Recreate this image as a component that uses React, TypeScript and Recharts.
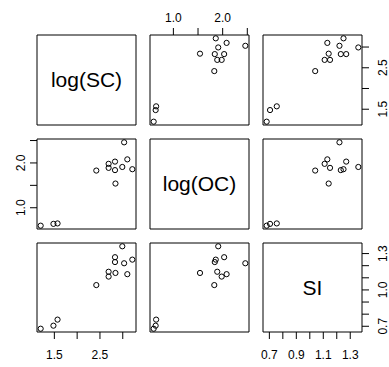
import React from 'react';
import { Label, ReferenceArea, Scatter, ScatterChart, XAxis, YAxis } from 'recharts';

const varNames = ['log(SC)', 'log(OC)', 'SI'];
const logSC = [1.57, 1.48, 1.2, 2.84, 3.21, 2.99, 3.1, 3.03, 2.83, 2.83, 2.69, 2.69, 2.42];
const logOC = [0.65, 0.64, 0.6, 1.54, 1.86, 1.91, 2.08, 2.46, 1.84, 2.03, 1.89, 1.98, 1.83];
const SI = [0.755, 0.705, 0.68, 1.14, 1.25, 1.36, 1.13, 1.22, 1.23, 1.27, 1.15, 1.11, 1.04];
const columns = [logSC, logOC, SI];

// tick marks per variable, and the ones that get a label on each side
const tickMarks = [
  [1.5, 2.0, 2.5, 3.0],
  [1.0, 1.5, 2.0, 2.5],
  [0.7, 0.8, 0.9, 1.0, 1.1, 1.2, 1.3],
];
const xTickLabels = [[1.5, 2.5], [1.0, 2.0], [0.7, 0.9, 1.1, 1.3]];
const yTickLabels = [[1.5, 2.5], [1.0, 2.0], [0.7, 1.0, 1.3]];

const W = 389;
const H = 367;
const COLS = [
  { l: 37, r: 136 },
  { l: 150, r: 249 },
  { l: 263, r: 362 },
];
const ROWS = [
  { t: 35, b: 125 },
  { t: 139, b: 229 },
  { t: 243, b: 332 },
];
const AX = 20;
const FONT = '"Liberation Sans", Arial, Helvetica, sans-serif';

// R style range: data range padded by 4% each side
const rangeOf = (v: number[]): [number, number] => {
  const lo = Math.min(...v);
  const hi = Math.max(...v);
  const pad = (hi - lo) * 0.04;
  return [lo - pad, hi + pad];
};

const has = (list: number[], v: number) => list.some((t) => Math.abs(t - v) < 1e-6);

function Panel({ row, col }: { row: number; col: number }) {
  const n = columns.length;
  const showTop = row === 0 && col % 2 === 1;
  const showBottom = row === n - 1 && col % 2 === 0;
  const showLeft = col === 0 && row % 2 === 1;
  const showRight = col === n - 1 && row % 2 === 0;

  const xDom = rangeOf(columns[col]);
  const yDom = rangeOf(columns[row]);
  const diag = row === col;

  const margin = {
    top: ROWS[row].t - (showTop ? AX : 0),
    bottom: H - ROWS[row].b - (showBottom ? AX : 0),
    left: COLS[col].l - (showLeft ? AX : 0),
    right: W - COLS[col].r - (showRight ? AX : 0),
  };

  const data = columns[col].map((v, k) => ({ x: v, y: columns[row][k] }));

  const xTick = (props: any) => {
    const { x, payload } = props;
    if (!has(xTickLabels[col], payload.value)) return <g />;
    const y = showTop ? ROWS[row].t - 13 : ROWS[row].b + 27;
    return (
      <text x={x} y={y} textAnchor="middle" fontSize={12} fill="#000" fontFamily={FONT}>
        {payload.value.toFixed(1)}
      </text>
    );
  };

  const yTick = (props: any) => {
    const { y, payload } = props;
    if (!has(yTickLabels[row], payload.value)) return <g />;
    const bx = showLeft ? COLS[col].l - 12 : COLS[col].r + 25;
    return (
      <text
        x={bx}
        y={y}
        transform={`rotate(-90 ${bx} ${y})`}
        textAnchor="middle"
        fontSize={12}
        fill="#000"
        fontFamily={FONT}
      >
        {payload.value.toFixed(1)}
      </text>
    );
  };

  return (
    <div style={{ position: 'absolute', left: 0, top: 0 }}>
      <ScatterChart width={W} height={H} margin={margin}>
        <XAxis
          type="number"
          dataKey="x"
          domain={xDom}
          allowDataOverflow
          hide={!(showTop || showBottom)}
          orientation={showTop ? 'top' : 'bottom'}
          height={AX}
          ticks={tickMarks[col]}
          interval={0}
          tick={xTick}
          tickSize={7}
          tickLine={{ stroke: '#000' }}
          axisLine={false}
        />
        <YAxis
          type="number"
          dataKey="y"
          domain={yDom}
          allowDataOverflow
          hide={!(showLeft || showRight)}
          orientation={showLeft ? 'left' : 'right'}
          width={AX}
          ticks={tickMarks[row]}
          interval={0}
          tick={yTick}
          tickSize={7}
          tickLine={{ stroke: '#000' }}
          axisLine={false}
        />
        <ReferenceArea
          x1={xDom[0]}
          x2={xDom[1]}
          y1={yDom[0]}
          y2={yDom[1]}
          fill="none"
          stroke="#000"
          strokeWidth={1}
        >
          {diag && (
            <Label value={varNames[row]} position="center" fontSize={21} fill="#000" fontFamily={FONT} />
          )}
        </ReferenceArea>
        {!diag && (
          <Scatter
            data={data}
            isAnimationActive={false}
            shape={(p: any) => (
              <circle cx={p.cx} cy={p.cy} r={2.6} fill="none" stroke="#000" strokeWidth={1} />
            )}
          />
        )}
      </ScatterChart>
    </div>
  );
}

export default function App() {
  const cells = [];
  for (let r = 0; r < columns.length; r++) {
    for (let c = 0; c < columns.length; c++) {
      cells.push(<Panel key={`${r}-${c}`} row={r} col={c} />);
    }
  }
  return (
    <div
      style={{
        position: 'absolute',
        left: 0,
        top: 0,
        width: W,
        height: H,
        background: '#fff',
        fontFamily: FONT,
      }}
    >
      {cells}
    </div>
  );
}
